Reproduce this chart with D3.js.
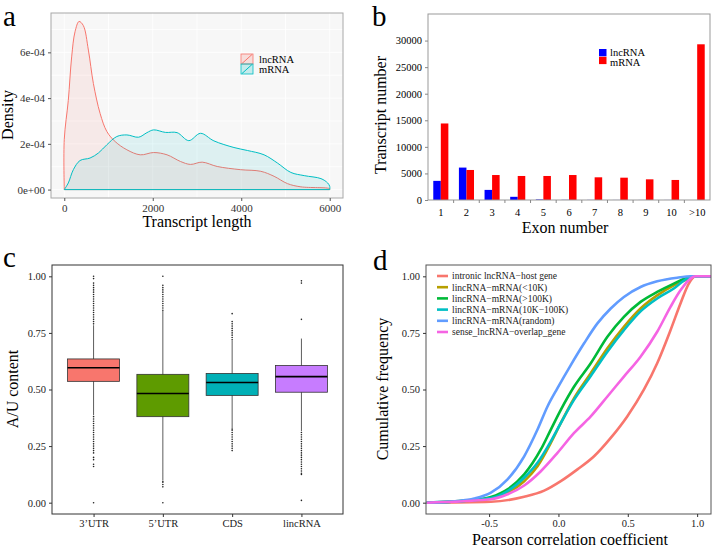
<!DOCTYPE html>
<html>
<head>
<meta charset="utf-8">
<script src="https://cdn.jsdelivr.net/npm/d3@7"></script>
<style>
  body { margin: 0; background: #fff; }
  svg, svg text { font-family: "Liberation Serif", "Times New Roman", serif; }
</style>
</head>
<body>
<div id="fig"></div>
<script>
// ---- panel a: transcript length density ----
const lncDensity = [[0,0],[0,2.2e-4],[91,3.9e-4],[167,5.8e-4],[243,6.9e-4],[334,7.35e-4],[431,7.17e-4],[545,6.1e-4],[658,4.64e-4],[810,3.33e-4],[962,2.54e-4],[1150,2.1e-4],[1415,1.74e-4],[1718,1.52e-4],[2020,1.62e-4],[2323,1.52e-4],[2625,1.23e-4],[2852,1.1e-4],[3117,1.2e-4],[3457,1.01e-4],[3987,0.87e-4],[4441,0.8e-4],[4743,0.58e-4],[5046,0.26e-4],[5348,0.12e-4],[6000,0.04e-4],[6000,0]];
const mrnaDensity = [[0,0],[91,0.29e-4],[205,0.87e-4],[356,1.27e-4],[583,1.38e-4],[772,1.6e-4],[962,1.96e-4],[1188,2.32e-4],[1415,2.39e-4],[1680,2.29e-4],[1869,2.49e-4],[2020,2.61e-4],[2285,2.5e-4],[2550,2.49e-4],[2815,2.14e-4],[3079,2.46e-4],[3382,2.13e-4],[3835,1.84e-4],[4138,1.71e-4],[4516,1.52e-4],[4819,1.16e-4],[5121,0.75e-4],[5424,0.61e-4],[5802,0.48e-4],[5953,0.29e-4],[6000,0.14e-4],[6000,0]];
const lengthTicks = [0, 2000, 4000, 6000];
const densityTicks = [0, 2e-4, 4e-4, 6e-4];
const densityTickLabels = ["0e+00", "2e-04", "4e-04", "6e-04"];

// ---- panel b: exon number ----
const exonCats = ["1","2","3","4","5","6","7","8","9","10",">10"];
const exonLnc = [3600, 6100, 1900, 600, 100, 30, 20, 10, 10, 10, 0];
const exonMrna = [14400, 5650, 4700, 4520, 4520, 4700, 4270, 4200, 3890, 3770, 29300];
const countTicks = [0, 5000, 10000, 15000, 20000, 25000, 30000];

// ---- panel c: A/U content boxplots ----
const auCats = ["3\u2019UTR", "5\u2019UTR", "CDS", "lincRNA"];
const auColors = ["#F8766D", "#5E9B00", "#00B0B6", "#C77CFF"];
const auQ1 = [0.536, 0.380, 0.474, 0.488];
const auMedian = [0.596, 0.482, 0.531, 0.557];
const auQ3 = [0.635, 0.567, 0.571, 0.606];
const auLow = [0.387, 0.100, 0.329, 0.316];
const auHigh = [0.784, 0.847, 0.716, 0.725];
const auOutliers = [
  [1.0,0.99,0.97,0.96,0.95,0.94,0.93,0.92,0.91,0.90,0.89,0.88,0.87,0.86,0.85,0.84,0.83,0.82,0.81,0.80,0.79,
   0.38,0.37,0.36,0.35,0.34,0.33,0.32,0.31,0.30,0.29,0.28,0.27,0.26,0.25,0.24,0.23,0.22,0.20,0.19,0.17,0.16,0.0],
  [1.0,0.96,0.95,0.94,0.93,0.92,0.91,0.90,0.89,0.88,0.87,0.86,0.85,0.095,0.09,0.08,0.07,0.0],
  [0.835,0.80,0.79,0.78,0.77,0.76,0.75,0.74,0.73,0.72,0.325,0.32,0.31,0.30,0.29,0.28,0.27,0.26,0.25,0.24,0.23],
  [0.98,0.97,0.81,0.31,0.30,0.29,0.28,0.27,0.26,0.25,0.24,0.23,0.22,0.21,0.20,0.19,0.18,0.17,0.16,0.15,0.14,0.13,0.125,0.01]
];
const auTicks = [0, 0.25, 0.5, 0.75, 1];

// ---- panel d: cumulative frequency of correlation ----
const corrNames = ["intronic lncRNA\u2212host gene","lincRNA\u2212mRNA(<10K)","lincRNA\u2212mRNA(>100K)","lincRNA\u2212mRNA(10K\u2212100K)","lincRNA\u2212mRNA(random)","sense_lncRNA\u2212overlap_gene"];
const corrColors = ["#F8766D","#B79F00","#00BA38","#00BFC4","#619CFF","#F564E3"];
const cdfIntronic = [[-0.95,0],[-0.487,0.004],[-0.247,0.026],[-0.103,0.053],[0.017,0.095],[0.137,0.147],[0.257,0.205],[0.377,0.286],[0.496,0.381],[0.616,0.499],[0.712,0.616],[0.808,0.762],[0.88,0.88],[0.94,0.968],[0.988,1],[1.1,1]];
const cdfLt10k = [[-0.95,0],[-0.487,0.018],[-0.367,0.044],[-0.247,0.095],[-0.151,0.161],[-0.055,0.264],[0.017,0.352],[0.113,0.462],[0.233,0.572],[0.353,0.682],[0.472,0.777],[0.592,0.858],[0.712,0.916],[0.832,0.96],[0.952,0.992],[0.99,1],[1.1,1]];
const cdfGt100k = [[-0.95,0],[-0.607,0.012],[-0.487,0.025],[-0.367,0.059],[-0.247,0.125],[-0.127,0.235],[-0.055,0.323],[0.017,0.41],[0.113,0.513],[0.233,0.616],[0.353,0.733],[0.472,0.821],[0.592,0.887],[0.712,0.931],[0.832,0.968],[0.928,0.994],[0.98,1],[1.1,1]];
const cdfMid = [[-0.95,0],[-0.487,0.02],[-0.367,0.051],[-0.247,0.11],[-0.151,0.176],[-0.055,0.271],[0.017,0.352],[0.113,0.455],[0.233,0.56],[0.353,0.667],[0.472,0.762],[0.592,0.845],[0.712,0.902],[0.832,0.946],[0.928,0.99],[0.99,1],[1.1,1]];
const cdfRandom = [[-0.95,0],[-0.727,0.007],[-0.607,0.018],[-0.487,0.044],[-0.367,0.103],[-0.247,0.205],[-0.151,0.323],[-0.079,0.425],[-0.007,0.506],[0.089,0.608],[0.185,0.704],[0.281,0.792],[0.377,0.858],[0.472,0.909],[0.592,0.953],[0.712,0.978],[0.856,0.994],[0.964,1],[1.1,1]];
const cdfSense = [[-0.95,0],[-0.487,0.015],[-0.367,0.037],[-0.247,0.076],[-0.127,0.139],[-0.007,0.22],[0.113,0.308],[0.233,0.381],[0.353,0.469],[0.472,0.557],[0.592,0.645],[0.712,0.755],[0.808,0.865],[0.88,0.938],[0.952,0.99],[0.99,1],[1.1,1]];
const corrTicks = [-0.5, 0, 0.5, 1];
const freqTicks = [0, 0.25, 0.5, 0.75, 1];

const svg = d3.select("#fig").append("svg")
    .attr("width", 714)
    .attr("height", 547);

// panel letters
const letters = [["a", 3, 26], ["b", 372, 26], ["c", 3, 267], ["d", 373, 270]];
svg.selectAll(".letter")
    .data(letters)
    .enter().append("text")
    .attr("class", "letter")
    .attr("x", d => d[1])
    .attr("y", d => d[2])
    .style("font-size", "29px")
    .text(d => d[0]);

function rotLabel(x, y, txt) {
    svg.append("text")
        .attr("transform", `translate(${x},${y}) rotate(-90)`)
        .attr("text-anchor", "middle")
        .style("font-size", "16px")
        .text(txt);
}
function xLabel(x, y, txt) {
    svg.append("text")
        .attr("x", x).attr("y", y)
        .attr("text-anchor", "middle")
        .style("font-size", "16px")
        .text(txt);
}
function styleTicks(g, size, color) {
    g.selectAll(".tick text")
        .attr("fill", color)
        .style("font-size", size)
        .style("font-family", "'Liberation Serif', serif");
}
const hyphen = f => d => f(d).replace("\u2212", "-");

// ================= panel a =================
{
    const x = d3.scaleLinear().domain([-300, 6300]).range([51, 343]);
    const y = d3.scaleLinear().domain([-0.3675e-4, 7.72e-4]).range([198, 13]);
    const g = svg.append("g");
    g.append("rect").attr("x", 51).attr("y", 13).attr("width", 292).attr("height", 185)
        .attr("fill", "#f7f7f7");
    // faint grid
    const minorX = [1000, 3000, 5000], minorY = [1e-4, 3e-4, 5e-4, 7e-4];
    g.selectAll(".gx").data(lengthTicks.concat(minorX)).enter().append("line")
        .attr("x1", d => x(d)).attr("x2", d => x(d)).attr("y1", 13).attr("y2", 198)
        .attr("stroke", "#fff").attr("stroke-width", 0.8);
    g.selectAll(".gy").data(densityTicks.concat(minorY)).enter().append("line")
        .attr("y1", d => y(d)).attr("y2", d => y(d)).attr("x1", 51).attr("x2", 343)
        .attr("stroke", "#fff").attr("stroke-width", 0.8);

    const area = d3.line().x(d => x(d[0])).y(d => y(d[1])).curve(d3.curveCatmullRom);
    g.append("path").attr("d", area(lncDensity) + "Z")
        .attr("fill", "#F8766D").attr("fill-opacity", 0.1)
        .attr("stroke", "#F8766D").attr("stroke-width", 1);
    g.append("path").attr("d", area(mrnaDensity) + "Z")
        .attr("fill", "#00BFC4").attr("fill-opacity", 0.1)
        .attr("stroke", "#00BFC4").attr("stroke-width", 1);

    g.append("rect").attr("x", 51).attr("y", 13).attr("width", 292).attr("height", 185)
        .attr("fill", "none").attr("stroke", "#a8a8a8").attr("stroke-width", 1);

    const yAxis = d3.axisLeft(y).tickValues(densityTicks).tickFormat((d, i) => densityTickLabels[i]).tickSize(3);
    const xAxis = d3.axisBottom(x).tickValues(lengthTicks).tickFormat(d3.format("d")).tickSize(3);
    g.append("g").attr("transform", "translate(51,0)").call(yAxis)
        .attr("font-family", null)
        .call(a => a.select(".domain").remove());
    g.append("g").attr("transform", "translate(0,198)").call(xAxis)
        .attr("font-family", null)
        .call(a => a.select(".domain").remove());
    g.selectAll(".tick line").attr("stroke", "#555");
    styleTicks(g, "11px", "#333");

    // legend
    const keys = [["lncRNA", "#F8766D"], ["mRNA", "#00BFC4"]];
    const lg = g.append("g").attr("transform", "translate(241,54)");
    keys.forEach((k, i) => {
        lg.append("rect").attr("x", 0).attr("y", i * 10).attr("width", 12).attr("height", 10)
            .attr("fill", k[1]).attr("fill-opacity", 0.2).attr("stroke", k[1]).attr("stroke-width", 0.8);
        lg.append("line").attr("x1", 1).attr("y1", i * 10 + 9.5).attr("x2", 11).attr("y2", i * 10 + 0.5)
            .attr("stroke", k[1]).attr("stroke-width", 1);
        lg.append("text").attr("x", 18).attr("y", i * 10 + 8.5)
            .style("font-size", "10.5px").text(k[0]);
    });

    rotLabel(13, 115, "Density");
    xLabel(197, 227, "Transcript length");
}

// ================= panel b =================
{
    const x = d3.scaleBand().domain(exonCats).range([428, 710]);
    const xs = d3.scaleBand().domain(["lncRNA", "mRNA"]).range([0, x.bandwidth()]).paddingOuter(0.7);
    const y = d3.scaleLinear().domain([0, 35000]).range([200, 14]);
    const g = svg.append("g");

    g.selectAll(".blnc").data(exonLnc).enter().append("rect")
        .attr("x", (d, i) => x(exonCats[i]) + xs("lncRNA"))
        .attr("y", d => y(d)).attr("width", xs.bandwidth()).attr("height", d => 200 - y(d))
        .attr("fill", "#0000FF");
    g.selectAll(".bmrna").data(exonMrna).enter().append("rect")
        .attr("x", (d, i) => x(exonCats[i]) + xs("mRNA"))
        .attr("y", d => y(d)).attr("width", xs.bandwidth()).attr("height", d => 200 - y(d))
        .attr("fill", "#FF0000");

    g.append("rect").attr("x", 428).attr("y", 14).attr("width", 282).attr("height", 186)
        .attr("fill", "none").attr("stroke", "#999").attr("stroke-width", 1);

    const yAxis = d3.axisLeft(y).tickValues(countTicks).tickFormat(d3.format("d")).tickSize(3);
    g.append("g").attr("transform", "translate(428,0)").call(yAxis)
        .attr("font-family", null)
        .call(a => a.select(".domain").remove());
    const xAxis = d3.axisBottom(x).tickSize(0).tickPadding(9);
    g.append("g").attr("transform", "translate(0,200)").call(xAxis)
        .attr("font-family", null)
        .call(a => a.select(".domain").remove());
    // tick marks on category boundaries
    g.selectAll(".bt").data(exonCats.slice(1)).enter().append("line")
        .attr("x1", d => x(d)).attr("x2", d => x(d)).attr("y1", 200).attr("y2", 203)
        .attr("stroke", "#888");
    g.selectAll(".tick line").attr("stroke", "#888");
    styleTicks(g, "10.5px", "#000");

    const keys = [["lncRNA", "#0000FF"], ["mRNA", "#FF0000"]];
    keys.forEach((k, i) => {
        g.append("rect").attr("x", 599).attr("y", 49 + i * 7.8).attr("width", 7.5).attr("height", 7.3).attr("fill", k[1]);
        g.append("text").attr("x", 610).attr("y", 56 + i * 9.5).style("font-size", "10.5px").text(k[0]);
    });

    rotLabel(386, 115, "Transcript number");
    xLabel(565, 233, "Exon number");
}

// ================= panel c =================
{
    const x = d3.scalePoint().domain(auCats).range([52, 343]).padding(0.6);
    const step = x.step();
    const bw = step * 0.75;
    const y = d3.scaleLinear().domain([-0.05, 1.05]).range([514, 265]);
    const g = svg.append("g");

    auCats.forEach((c, i) => {
        const cx = x(c);
        g.append("line").attr("x1", cx).attr("x2", cx).attr("y1", y(auLow[i])).attr("y2", y(auHigh[i]))
            .attr("stroke", "#333").attr("stroke-width", 0.8);
        g.selectAll(".o" + i).data(auOutliers[i]).enter().append("circle")
            .attr("cx", cx).attr("cy", d => y(d)).attr("r", 0.8).attr("fill", "#222");
        g.append("rect").attr("x", cx - bw / 2).attr("y", y(auQ3[i]))
            .attr("width", bw).attr("height", y(auQ1[i]) - y(auQ3[i]))
            .attr("fill", auColors[i]).attr("stroke", "#333").attr("stroke-width", 0.8);
        g.append("line").attr("x1", cx - bw / 2).attr("x2", cx + bw / 2)
            .attr("y1", y(auMedian[i])).attr("y2", y(auMedian[i]))
            .attr("stroke", "#000").attr("stroke-width", 1.6);
    });

    g.append("rect").attr("x", 52).attr("y", 265).attr("width", 291).attr("height", 249)
        .attr("fill", "none").attr("stroke", "#333").attr("stroke-width", 1);

    const yAxis = d3.axisLeft(y).tickValues(auTicks).tickFormat(d3.format(".2f")).tickSize(3);
    g.append("g").attr("transform", "translate(52,0)").call(yAxis)
        .attr("font-family", null)
        .call(a => a.select(".domain").remove());
    const xAxis = d3.axisBottom(x).tickSize(3);
    g.append("g").attr("transform", "translate(0,514)").call(xAxis)
        .attr("font-family", null)
        .call(a => a.select(".domain").remove());
    g.selectAll(".tick line").attr("stroke", "#333");
    styleTicks(g, "10.5px", "#222");

    rotLabel(17.5, 389, "A/U content");
}

// ================= panel d =================
{
    const x = d3.scaleLinear().domain([-0.955, 1.1]).range([426, 711]);
    const y = d3.scaleLinear().domain([-0.05, 1.05]).range([514, 265]);
    const g = svg.append("g");
    const curves = [cdfIntronic, cdfLt10k, cdfGt100k, cdfMid, cdfRandom, cdfSense];
    const line = d3.line().x(d => x(d[0])).y(d => y(d[1])).curve(d3.curveMonotoneX);

    g.selectAll(".cdf").data(curves).enter().append("path")
        .attr("d", d => line(d))
        .attr("fill", "none")
        .attr("stroke", (d, i) => corrColors[i])
        .attr("stroke-width", 2.6);

    g.append("rect").attr("x", 426).attr("y", 265).attr("width", 285).attr("height", 249)
        .attr("fill", "none").attr("stroke", "#555").attr("stroke-width", 1);

    const yAxis = d3.axisLeft(y).tickValues(freqTicks).tickFormat(d3.format(".2f")).tickSize(3);
    g.append("g").attr("transform", "translate(426,0)").call(yAxis)
        .attr("font-family", null)
        .call(a => a.select(".domain").remove());
    const xAxis = d3.axisBottom(x).tickValues(corrTicks).tickFormat(hyphen(d3.format(".1f"))).tickSize(3);
    g.append("g").attr("transform", "translate(0,514)").call(xAxis)
        .attr("font-family", null)
        .call(a => a.select(".domain").remove());
    g.selectAll(".tick line").attr("stroke", "#333");
    styleTicks(g, "10.5px", "#222");

    corrNames.forEach((n, i) => {
        const ly = 276 + i * 11.2;
        g.append("line").attr("x1", 437).attr("x2", 448).attr("y1", ly).attr("y2", ly)
            .attr("stroke", corrColors[i]).attr("stroke-width", 2.6);
        g.append("text").attr("x", 452).attr("y", ly + 3.3).style("font-size", "9.5px").attr("fill", "#222").text(n);
    });

    rotLabel(388, 389, "Cumulative frequency");
    xLabel(570, 545, "Pearson correlation coefficient");
}
</script>
</body>
</html>
